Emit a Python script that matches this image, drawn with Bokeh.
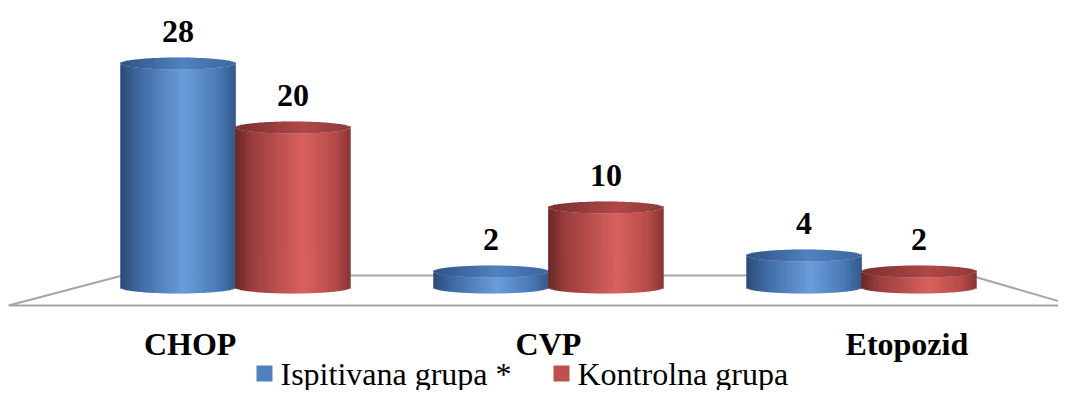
import numpy as np
from bokeh.plotting import figure
from bokeh.models import ColumnDataSource, Range1d
from bokeh.core.properties import value
from bokeh.embed import file_html
from bokeh.resources import INLINE

# ---- data ----
categories = ["CHOP", "CVP", "Etopozid"]
series_names = ["Ispitivana grupa *", "Kontrolna grupa"]
ispitivana = [28, 2, 4]
kontrolna = [20, 10, 2]

# ---- styles ----
FONT = "Liberation Serif"
BLUE = "#4f81bd"
RED = "#c0504d"
side_stops = {
    "blue": [(0.0, "#2b4a75"), (0.15, "#3d68a0"), (0.55, "#6a9ddc"), (0.85, "#4a7bb8"), (1.0, "#34598c")],
    "red": [(0.0, "#6a2828"), (0.15, "#9a3e3e"), (0.6, "#da625e"), (0.88, "#b44a48"), (1.0, "#8a3434")],
}
top_stops = {
    "blue": [(0.0, "#2f5284"), (0.55, "#5282c0"), (1.0, "#3c669e")],
    "red": [(0.0, "#793030"), (0.6, "#b04848"), (1.0, "#8f3a3a")],
}


def hex2rgb(h):
    return [int(h[i:i + 2], 16) for i in (1, 3, 5)]


def ramp(stops, u):
    pos = [s[0] for s in stops]
    cols = np.array([hex2rgb(s[1]) for s in stops], dtype=float)
    r = np.interp(u, pos, cols[:, 0])
    g = np.interp(u, pos, cols[:, 1])
    b = np.interp(u, pos, cols[:, 2])
    return ["#%02x%02x%02x" % (int(a), int(bb), int(c)) for a, bb, c in zip(r, g, b)]


W, H = 1058, 390
X0, X1 = -0.7508, 2.6294
Y0, Y1 = -12.875, 35.875


def dx(px):  # screen px -> data x (for legend layout)
    return X0 + px * (X1 - X0) / W


def dy(py):  # screen px -> data y (for legend layout)
    return Y1 - py * (Y1 - Y0) / H


p = figure(width=W, height=H, x_range=Range1d(X0, X1), y_range=Range1d(Y0, Y1),
           output_backend="svg", toolbar_location=None, min_border=0,
           x_axis_location=None, y_axis_location=None)
p.xgrid.visible = False
p.ygrid.visible = False
p.outline_line_color = None
p.background_fill_color = "white"

# ---- floor (3D plane) ----
n = len(categories)
floor_front, floor_back = -2.25, 1.5
p.patch(x=[-0.725, n - 1 + 0.677, n - 1 + 0.348, -0.361],
        y=[floor_front, floor_front, floor_back, floor_back],
        fill_color=None, line_color="#a6a6a6", line_width=2)

# ---- cylinders built from vertical strips ----
bar_w = 0.367
ell_h = 1.5  # ellipse height in value units
NS = 48
u = (np.arange(NS) + 0.5) / NS
s = np.sqrt(np.clip(1 - (2 * u - 1) ** 2, 0, 1))
xs, tops, bots, cols = [], [], [], []
for i in range(n):
    for key, vals, off in (("blue", ispitivana, -bar_w / 2), ("red", kontrolna, bar_w / 2)):
        v = vals[i]
        cx = i + off
        sx = cx + (u - 0.5) * bar_w
        # side
        xs += list(sx)
        bots += list(-(ell_h / 2) * s)
        tops += list(v - (ell_h / 2) * s)
        cols += ramp(side_stops[key], u)
        # top face
        xs += list(sx)
        bots += list(v - (ell_h / 2) * s)
        tops += list(v + (ell_h / 2) * s)
        cols += ramp(top_stops[key], u)

src = ColumnDataSource(dict(x=xs, top=tops, bottom=bots, color=cols))
p.vbar(x="x", top="top", bottom="bottom", width=bar_w / NS * 1.3, source=src,
       fill_color="color", line_color=None)

# ---- value labels ----
lx, ly, lt = [], [], []
for i in range(n):
    for vals, off in ((ispitivana, -bar_w / 2), (kontrolna, bar_w / 2)):
        lx.append(i + off)
        ly.append(vals[i] + ell_h / 2)
        lt.append(str(vals[i]))
p.text(x=lx, y=ly, text=lt, text_font=value(FONT), text_font_style="bold",
       text_font_size="32px", text_align="center", text_baseline="alphabetic",
       y_offset=-26, text_color="black")

# ---- category labels ----
cx = [i + (i - (n - 1) / 2) * 0.145 for i in range(n)]
p.text(x=cx, y=[-8.25] * n, text=categories, text_font=value(FONT), text_font_style="bold",
       text_font_size="32px", text_align="center", text_baseline="alphabetic",
       y_offset=-10, text_color="black")

# ---- legend (drawn manually so the serif font is honoured) ----
p.rect(x=[dx(264), dx(561)], y=[dy(373), dy(373)], width=16, height=16,
       width_units="screen", height_units="screen",
       fill_color=[BLUE, RED], line_color=None)
p.text(x=[dx(280), dx(577)], y=[dy(373), dy(373)], text=series_names,
       text_font=value(FONT), text_font_size="32px", text_align="left",
       text_baseline="alphabetic", text_color="black")

open("out.html", "w").write(file_html(p, INLINE))
